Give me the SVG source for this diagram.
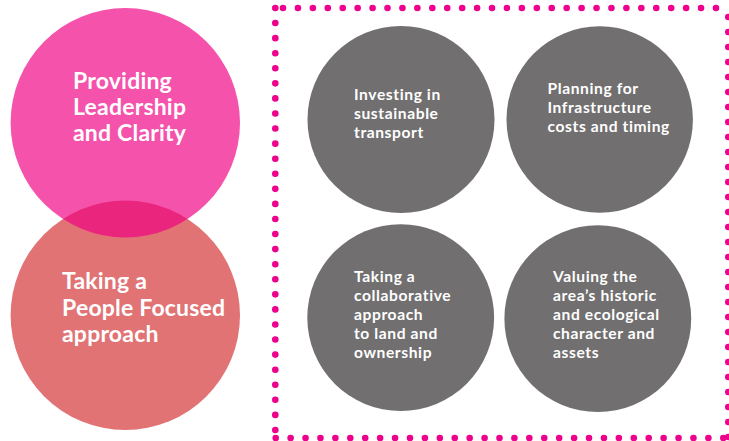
<svg xmlns="http://www.w3.org/2000/svg" width="729" height="441" viewBox="0 0 729 441">
<style>
.dots{fill:none;stroke:#ec008c;stroke-width:6.6;stroke-linecap:round;stroke-dasharray:0 15}
.big{font:700 23px Lato,"Open Sans",sans-serif;fill:#fff;letter-spacing:.2px}
.small{font:700 15.6px Lato,"Open Sans",sans-serif;fill:#fff;letter-spacing:.6px}
.grey{fill:#716f70}
</style>
<rect width="729" height="441" fill="#fff"/>
<g id="frame">
<path class="dots" style="stroke-dasharray:0 15.07" d="M275.3 8V430"/>
<path class="dots" style="stroke-dasharray:0 14.93" d="M283 8H716"/>
<path class="dots" style="stroke-dasharray:0 14.92" d="M275.700 438H726"/>
<path class="dots" d="M728.300 17V438"/>
</g>
<g id="people-focused">
<circle cx="125.3" cy="315.3" r="114.7" fill="#e17375"/>
<text class="big"><tspan x="62" y="289">Taking a</tspan><tspan x="62" y="316">People Focused</tspan><tspan x="62" y="342">approach</tspan></text>
</g>
<g id="leadership">
<circle cx="125.3" cy="122.7" r="114.7" fill="#ef0083" fill-opacity=".68"/>
<text class="big"><tspan x="73" y="89">Providing</tspan><tspan x="73" y="115">Leadership</tspan><tspan x="73" y="141">and Clarity</tspan></text>
</g>
<g id="transport">
<circle class="grey" cx="401" cy="119.5" r="93.5"/>
<text class="small"><tspan x="354" y="100">Investing in</tspan><tspan x="354" y="119">sustainable</tspan><tspan x="354" y="138">transport</tspan></text>
</g>
<g id="infrastructure">
<circle class="grey" cx="599.7" cy="119.5" r="93.2"/>
<text class="small"><tspan x="547.500" y="94">Planning for</tspan><tspan x="547.500" y="113">Infrastructure</tspan><tspan x="547.500" y="132">costs and timing</tspan></text>
</g>
<g id="collaborative">
<circle class="grey" cx="400.700" cy="317.600" r="93.400"/>
<text class="small"><tspan x="354" y="282">Taking a</tspan><tspan x="354" y="301">collaborative</tspan><tspan x="354" y="320">approach</tspan><tspan x="354" y="339">to land and</tspan><tspan x="354" y="358">ownership</tspan></text>
</g>
<g id="historic">
<circle class="grey" cx="597.800" cy="318.700" r="93.400"/>
<text class="small"><tspan x="553" y="282">Valuing the</tspan><tspan x="553" y="301">area’s historic</tspan><tspan x="553" y="320">and ecological</tspan><tspan x="553" y="339">character and</tspan><tspan x="553" y="358">assets</tspan></text>
</g>
</svg>
